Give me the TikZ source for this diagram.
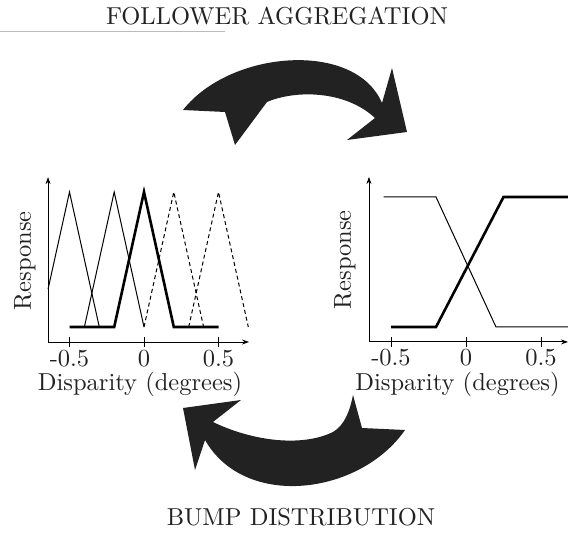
\documentclass[tikz,border=0pt]{standalone}
\usepackage{amsmath,amssymb}
\usepackage{xcolor}
\definecolor{scanink}{HTML}{222222}
\definecolor{scanrule}{HTML}{BBBBBB}
\usepackage{tikz}
\usetikzlibrary{arrows.meta,positioning,calc}

\tikzset{
  plotaxis/.style={line width=0.9pt,{Stealth[length=7pt,width=5pt]}-{Stealth[length=7pt,width=5pt]}},
  tick/.style={line width=0.9pt},
  bumpthin/.style={line width=1pt},
  bumpthick/.style={line width=2.6pt},
  bumpdash/.style={line width=1pt,dash pattern=on 4pt off 3pt},
  bigarrow/.style={fill=scanink,draw=none},
  biglabel/.style={font=\fontsize{10}{12}\selectfont,text=scanink,inner sep=0pt,scale=2.45,transform shape},
}

\begin{document}
\begin{tikzpicture}[x=1pt,y=1pt]
\useasboundingbox (0,0) rectangle (568,540);

\draw[scanrule,line width=0.6pt] (0,509) -- (225,509);
\node[biglabel,anchor=base] (aggtitle) at (277,515) {FOLLOWER AGGREGATION};
\node[biglabel,anchor=base] (bumptitle) at (301,14) {BUMP DISTRIBUTION};

% left: bumps
\begin{scope}[shift={(144,213)},x=149pt,y=135pt]
  \draw[plotaxis] (-0.644,1.11) |- (0.705,-0.111);
  \foreach \t/\n in {-0.5/a,0/b,0.5/c}{
    \draw[tick] (\t,-0.111) +(0,-5pt) -- +(0,5pt);
    \node[biglabel,anchor=base] (ltick\n) at (\t,-0.289) {\t};
  }
  \node[biglabel,anchor=base] (ldisp) at (-0.027,-0.467) {Disparity (degrees)};
  \node[biglabel,rotate=90] (lresp) at (-0.8,0.49) {Response};
  \draw[bumpthin] (-0.644,0.28) -- (-0.5,1) -- (-0.3,0);
  \draw[bumpthin] (-0.4,0) -- (-0.2,1) -- (0,0);
  \draw[bumpdash] (0,0) -- (0.2,1) -- (0.4,0);
  \draw[bumpdash] (0.3,0) -- (0.5,1) -- (0.7,0);
  \draw[bumpthick] (-0.5,0) -- (-0.2,0) -- (0,1) -- (0.2,0) -- (0.5,0);
\end{scope}

% right: followers
\begin{scope}[shift={(466,213)},x=150pt,y=130pt]
  \draw[plotaxis] (-0.647,1.154) |- (0.68,-0.115);
  \foreach \t/\n in {-0.5/a,0/b,0.5/c}{
    \draw[tick] (\t,-0.115) +(0,-5pt) -- +(0,5pt);
    \node[biglabel,anchor=base] (rtick\n) at (\t,-0.300) {\t};
  }
  \node[biglabel,anchor=base] (rdisp) at (-0.057,-0.485) {Disparity (degrees)};
  \node[biglabel,rotate=90] (rresp) at (-0.807,0.517) {Response};
  \draw[bumpthin] (-0.55,1) -- (-0.2,1) -- (0.2,0) -- (0.7,0);
  \draw[bumpthick] (-0.5,0) -- (-0.2,0) -- (0.25,1) -- (0.7,1);
\end{scope}

% curved arrows
\fill[bigarrow] (183,430) .. controls (230,490) and (355,500) .. (382,437)
  -- (392,472) -- (407,408) -- (347,400) -- (375,422)
  .. controls (345,450) and (295,450) .. (267,438)
  -- (235,395) -- (225,428) -- cycle;
\fill[bigarrow] (183,132) -- (241,140) -- (213,118)
  .. controls (250,100) and (300,92) .. (333,108)
  .. controls (345,115) and (350,130) .. (353,145)
  -- (362,112) -- (405,110)
  .. controls (360,45) and (245,30) .. (205,100)
  -- (195,70) -- cycle;
\end{tikzpicture}
\end{document}
